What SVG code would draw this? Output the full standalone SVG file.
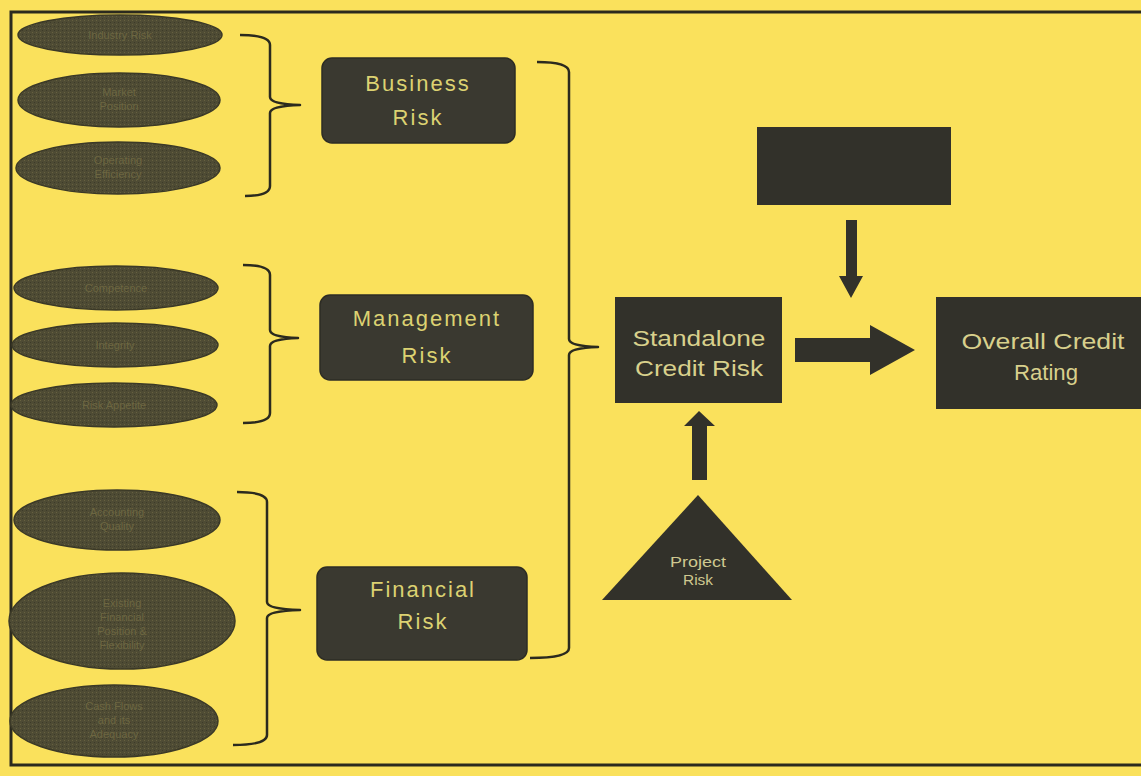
<svg xmlns="http://www.w3.org/2000/svg" width="1141" height="776" viewBox="0 0 1141 776">
<defs>
<pattern id="grain" width="4" height="4" patternUnits="userSpaceOnUse">
<rect width="4" height="4" fill="#4e4b34"/>
<rect x="0" y="0" width="1" height="1" fill="#676140"/>
<rect x="2" y="2" width="1" height="1" fill="#3c3a29"/>
</pattern>
<style>
.ell{fill:url(#grain);stroke:#3b3927;stroke-width:1.5}
.elt{font-family:"Liberation Sans",Arial,sans-serif;font-size:11px;fill:#6c6641;text-anchor:middle}
.rbox{fill:#3a3930;stroke:#2d2c24;stroke-width:1.5}
.rbt{font-family:"Liberation Sans",Arial,sans-serif;font-size:22px;fill:#dcd272;text-anchor:middle;letter-spacing:2px}
.sbox{fill:#32312a}
.sbt{font-family:"Liberation Sans",Arial,sans-serif;font-size:22px;fill:#d8d08c;text-anchor:middle}
.pt{font-family:"Liberation Sans",Arial,sans-serif;font-size:14px;fill:#cfc890;text-anchor:middle}
.brace{fill:none;stroke:#2b2a1e;stroke-width:2.5;stroke-linejoin:round}
.frame{fill:none;stroke:#2b2a1e;stroke-width:3}
.arr{fill:#32312a}
</style>
</defs>
<rect width="1141" height="776" fill="#fae15c"/>
<g id="frame">
<path class="frame" d="M1141,12 H11 V765 H1141"/>
</g>
<g id="ellipses">
<g id="industry-risk"><ellipse class="ell" cx="120" cy="35" rx="102" ry="20"/><text class="elt" x="120" y="39">Industry Risk</text></g>
<g id="market-position"><ellipse class="ell" cx="119" cy="100" rx="101" ry="27"/><text class="elt" x="119" y="96">Market</text><text class="elt" x="119" y="110">Position</text></g>
<g id="operating-efficiency"><ellipse class="ell" cx="118" cy="168" rx="102" ry="26"/><text class="elt" x="118" y="164">Operating</text><text class="elt" x="118" y="178">Efficiency</text></g>
<g id="competence"><ellipse class="ell" cx="116" cy="288" rx="102" ry="22"/><text class="elt" x="116" y="292">Competence</text></g>
<g id="integrity"><ellipse class="ell" cx="115" cy="345" rx="103" ry="22"/><text class="elt" x="115" y="349">Integrity</text></g>
<g id="risk-appetite"><ellipse class="ell" cx="114" cy="405" rx="103" ry="22"/><text class="elt" x="114" y="409">Risk Appetite</text></g>
<g id="accounting-quality"><ellipse class="ell" cx="117" cy="520" rx="103" ry="30"/><text class="elt" x="117" y="516">Accounting</text><text class="elt" x="117" y="530">Quality</text></g>
<g id="existing-financial"><ellipse class="ell" cx="122" cy="621" rx="113" ry="48"/><text class="elt" x="122" y="607">Existing</text><text class="elt" x="122" y="621">Financial</text><text class="elt" x="122" y="635">Position &amp;</text><text class="elt" x="122" y="649">Flexibility</text></g>
<g id="cash-flows"><ellipse class="ell" cx="114" cy="721" rx="104" ry="36"/><text class="elt" x="114" y="710">Cash Flows</text><text class="elt" x="114" y="724">and its</text><text class="elt" x="114" y="738">Adequacy</text></g>
</g>
<g id="connectors">
<path class="brace" d="M240,35 Q270,35 270,45 V97 Q270,104 300,105 Q270,106 270,113 V186 Q270,196 245,196"/>
<path class="brace" d="M243,265 Q270,265 270,275 V330 Q270,337 298,338 Q270,339 270,346 V413 Q270,423 243,423"/>
<path class="brace" d="M237,492 Q267,492 267,502 V602 Q267,609 300,610 Q267,611 267,618 V735 Q267,745 233,745"/>
<path class="brace" d="M537,62 Q569,62 569,72 V339 Q569,346 598,347 Q569,348 569,355 V648 Q569,658 530,658"/>
<polygon class="arr" points="846,220 857,220 857,276 863,276 851,298 839,276 846,276"/>
<polygon class="arr" points="795,338 870,338 870,325 915,350 870,375 870,362 795,362"/>
<polygon class="arr" points="692,480 707,480 707,426 715,426 699,411 684,426 692,426"/>
</g>
<g id="business-risk"><rect class="rbox" x="322" y="58" width="193" height="85" rx="10"/><text class="rbt" x="418" y="91">Business</text><text class="rbt" x="418" y="125">Risk</text></g>
<g id="management-risk"><rect class="rbox" x="320" y="295" width="213" height="85" rx="10"/><text class="rbt" x="427" y="326">Management</text><text class="rbt" x="427" y="363">Risk</text></g>
<g id="financial-risk"><rect class="rbox" x="317" y="567" width="210" height="93" rx="10"/><text class="rbt" x="423" y="597">Financial</text><text class="rbt" x="423" y="629">Risk</text></g>
<g id="top-box"><rect class="sbox" x="757" y="127" width="194" height="78"/></g>
<g id="standalone-credit-risk"><rect class="sbox" x="615" y="297" width="167" height="106"/><text class="sbt" x="699" y="346" textLength="133" lengthAdjust="spacingAndGlyphs">Standalone</text><text class="sbt" x="699" y="376" textLength="128" lengthAdjust="spacingAndGlyphs">Credit Risk</text></g>
<g id="overall-credit-rating"><rect class="sbox" x="936" y="297" width="205" height="112"/><text class="sbt" x="1043" y="349" textLength="163" lengthAdjust="spacingAndGlyphs">Overall Credit</text><text class="sbt" x="1046" y="380" textLength="64" lengthAdjust="spacingAndGlyphs">Rating</text></g>
<g id="project-risk"><polygon class="sbox" points="698,495 792,600 602,600"/><text class="pt" x="698" y="567" textLength="56" lengthAdjust="spacingAndGlyphs">Project</text><text class="pt" x="698" y="585" textLength="30" lengthAdjust="spacingAndGlyphs">Risk</text></g>
</svg>
